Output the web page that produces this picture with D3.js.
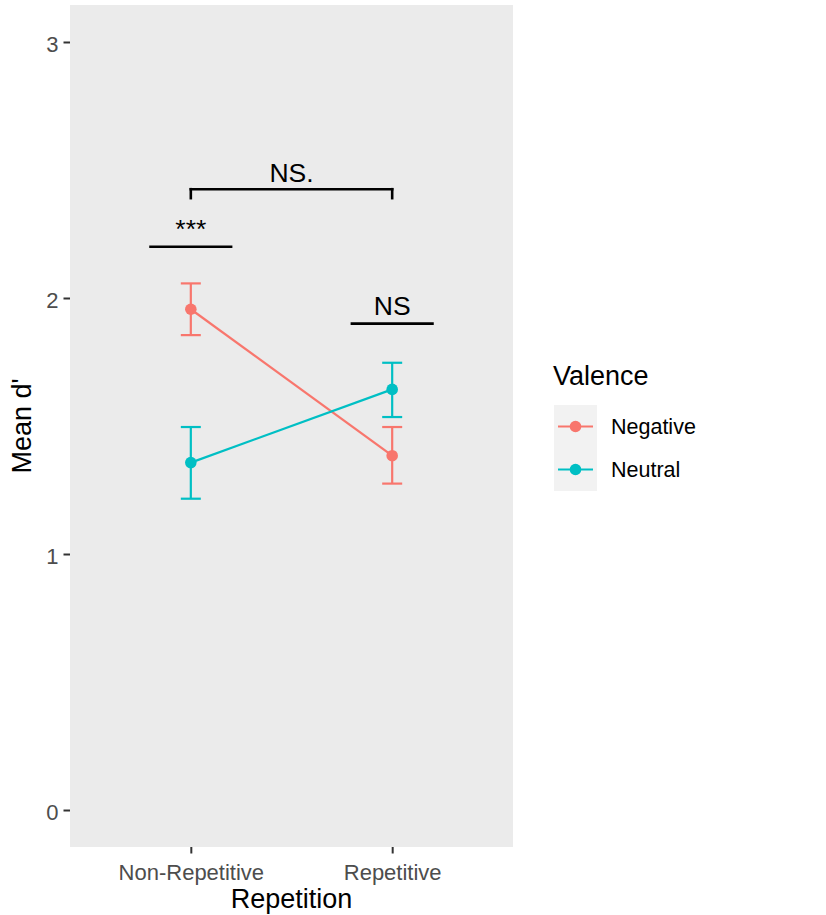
<!DOCTYPE html>
<html>
<head>
<meta charset="utf-8">
<script src="https://cdn.jsdelivr.net/npm/d3@7"></script>
<style>
  html, body { margin: 0; padding: 0; background: #ffffff; }
  svg { display: block; font-family: "Liberation Sans", Arial, Helvetica, sans-serif; }
</style>
</head>
<body>
<svg id="chart" width="826" height="915"></svg>
<script>
// Repetition conditions on the x axis
const categories = ["Non-Repetitive", "Repetitive"];
// Valence groups and their colours
const groups = ["Negative", "Neutral"];
const groupColors = ["#F8766D", "#00BFC4"];
// Mean d' per condition, one array per valence group
const negativeMean = [1.956, 1.384];
const neutralMean = [1.357, 1.643];
// Lower / upper ends of the error bars
const negativeLow = [1.855, 1.275];
const negativeHigh = [2.057, 1.496];
const neutralLow = [1.216, 1.535];
const neutralHigh = [1.496, 1.747];
// Y axis ticks
const yTicks = [0, 1, 2, 3];
// Significance annotations (x in category index units, 1-based)
const segmentLines = [
  { x1: 0.8, x2: 1.2, y1: 2.2, y2: 2.2 },
  { x1: 1.8, x2: 2.2, y1: 1.9, y2: 1.9 },
  { x1: 1, x2: 1, y1: 2.39, y2: 2.425 },
  { x1: 1, x2: 2, y1: 2.425, y2: 2.425 },
  { x1: 2, x2: 2, y1: 2.425, y2: 2.39 }
];
const annotationLabels = [
  { x: 1, y: 2.236, text: "***" },
  { x: 2, y: 1.934, text: "NS" },
  { x: 1.5, y: 2.454, text: "NS." }
];

const series = [
  { name: groups[0], color: groupColors[0], mean: negativeMean, low: negativeLow, high: negativeHigh },
  { name: groups[1], color: groupColors[1], mean: neutralMean, low: neutralLow, high: neutralHigh }
];

const svg = d3.select("#chart");
const panel = { left: 70, right: 513, top: 5, bottom: 847 };

const x = d3.scalePoint().domain(categories).range([panel.left, panel.right]).padding(0.6);
const xIdx = d3.scaleLinear().domain([1, 2]).range([x(categories[0]), x(categories[1])]);
const y = d3.scaleLinear().domain([-0.1445, 3.1445]).range([panel.bottom, panel.top]);

// panel background
svg.append("rect")
  .attr("x", panel.left).attr("y", panel.top)
  .attr("width", panel.right - panel.left).attr("height", panel.bottom - panel.top)
  .attr("fill", "#EBEBEB");

// y axis
const yAxis = svg.append("g").attr("transform", `translate(${panel.left},0)`)
  .call(d3.axisLeft(y).tickValues(yTicks).tickSize(6.5).tickPadding(5).tickFormat(d3.format("d")));
yAxis.select(".domain").remove();
yAxis.selectAll(".tick line").attr("stroke", "#333333").attr("stroke-width", 2);
yAxis.selectAll(".tick text").attr("fill", "#4D4D4D").attr("font-size", "22px")
  .attr("font-family", "Liberation Sans, Arial, sans-serif").attr("dy", "0.42em");

// x axis
const xAxis = svg.append("g").attr("transform", `translate(0,${panel.bottom})`)
  .call(d3.axisBottom(x).tickSize(6.5).tickPadding(6));
xAxis.select(".domain").remove();
xAxis.selectAll(".tick line").attr("stroke", "#333333").attr("stroke-width", 2);
xAxis.selectAll(".tick text").attr("fill", "#4D4D4D").attr("font-size", "22px")
  .attr("font-family", "Liberation Sans, Arial, sans-serif").attr("dy", "0.94em");

// axis titles
svg.append("text").attr("x", x(categories[0]) / 2 + x(categories[1]) / 2).attr("y", 907.5)
  .attr("text-anchor", "middle").attr("font-size", "27px").attr("fill", "#000").text("Repetition");
svg.append("text")
  .attr("transform", `translate(31,${(panel.top + panel.bottom) / 2}) rotate(-90)`)
  .attr("text-anchor", "middle").attr("font-size", "27px").attr("fill", "#000").text("Mean d'");

// lines, error bars and points
const line = d3.line().x((d, i) => x(categories[i])).y(d => y(d));
series.forEach(s => {
  svg.append("path").datum(s.mean).attr("d", line)
    .attr("fill", "none").attr("stroke", s.color).attr("stroke-width", 2.2);
  const eb = svg.append("g").attr("stroke", s.color).attr("stroke-width", 2.2).attr("fill", "none");
  categories.forEach((c, i) => {
    const cx = x(c);
    eb.append("line").attr("x1", cx).attr("x2", cx).attr("y1", y(s.low[i])).attr("y2", y(s.high[i]));
    eb.append("line").attr("x1", cx - 10).attr("x2", cx + 10).attr("y1", y(s.low[i])).attr("y2", y(s.low[i]));
    eb.append("line").attr("x1", cx - 10).attr("x2", cx + 10).attr("y1", y(s.high[i])).attr("y2", y(s.high[i]));
  });
  svg.append("g").selectAll("circle").data(s.mean).join("circle")
    .attr("cx", (d, i) => x(categories[i])).attr("cy", d => y(d)).attr("r", 5.8)
    .attr("fill", s.color);
});

// significance annotations
svg.append("g").selectAll("line").data(segmentLines).join("line")
  .attr("x1", d => xIdx(d.x1)).attr("x2", d => xIdx(d.x2))
  .attr("y1", d => y(d.y1)).attr("y2", d => y(d.y2))
  .attr("stroke", "#000").attr("stroke-width", 2.6).attr("stroke-linecap", "square");
svg.append("g").selectAll("text").data(annotationLabels).join("text")
  .attr("x", d => xIdx(d.x)).attr("y", d => y(d.y))
  .attr("text-anchor", "middle").attr("font-size", "26.5px").attr("fill", "#000")
  .text(d => d.text);

// legend
const legend = svg.append("g");
legend.append("text").attr("x", 553).attr("y", 385).attr("font-size", "27px").attr("fill", "#000").text("Valence");
const keyX = 554, keyY = 405, keySize = 43;
series.forEach((s, i) => {
  const ky = keyY + i * keySize;
  legend.append("rect").attr("x", keyX).attr("y", ky).attr("width", keySize).attr("height", keySize).attr("fill", "#F2F2F2");
  legend.append("line").attr("x1", keyX + 4).attr("x2", keyX + keySize - 4)
    .attr("y1", ky + keySize / 2).attr("y2", ky + keySize / 2)
    .attr("stroke", s.color).attr("stroke-width", 2.2);
  legend.append("circle").attr("cx", keyX + keySize / 2).attr("cy", ky + keySize / 2).attr("r", 5.8).attr("fill", s.color);
  legend.append("text").attr("x", 611).attr("y", ky + keySize / 2 + 7.6)
    .attr("font-size", "21.5px").attr("fill", "#000").text(s.name);
});
</script>
</body>
</html>
